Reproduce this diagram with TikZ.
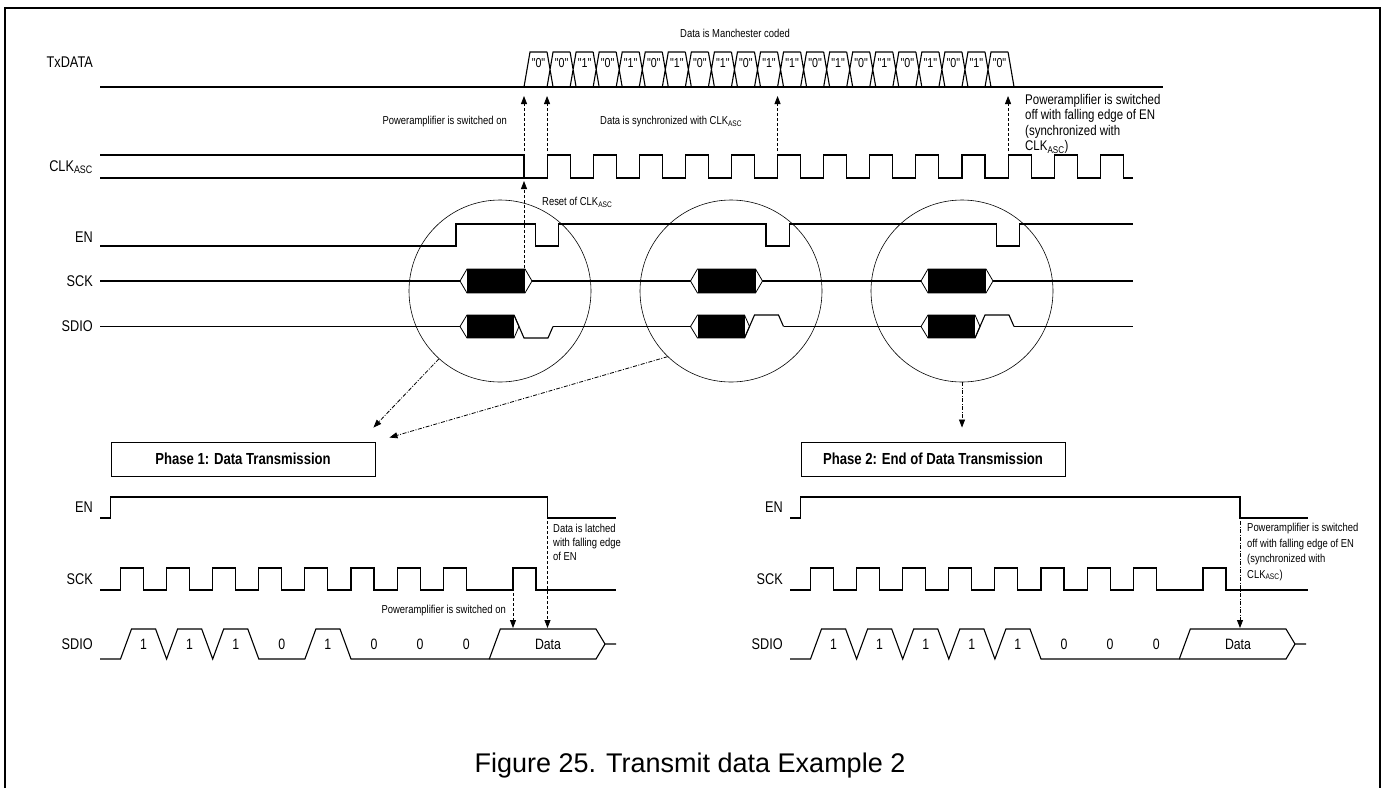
\documentclass[tikz,border=0pt]{standalone}
\usepackage{fontspec}
\setmainfont{Liberation Sans}
\newfontfamily\narrowsf{Liberation Sans}[FakeStretch=0.82]
\usetikzlibrary{positioning,calc,arrows.meta}

\newcommand{\nsize}[2]{\narrowsf\fontsize{#1}{#2}\selectfont}
\newcommand{\asc}{\textsubscript{ASC}}

\begin{document}
\begin{tikzpicture}[x=1pt,y=-1pt]
    \tikzstyle{wave}=[line width=1.1pt, line join=miter];
    \tikzstyle{signame}=[anchor=east, inner sep=0pt, font=\nsize{15.5}{18}];
    \tikzstyle{note}=[inner sep=0pt, align=left, font=\nsize{11.5}{14}];
    \tikzstyle{bitval}=[inner sep=0pt, font=\nsize{15}{18}];
    \tikzstyle{mcode}=[inner sep=0pt, font=\nsize{13}{15}];
    \tikzstyle{ring}=[draw, circle, line width=0.6pt, minimum size=182pt, inner sep=0pt];
    \tikzstyle{phase}=[draw, line width=0.9pt, minimum width=264pt, minimum height=34pt, inner sep=0pt, font=\bfseries\nsize{16}{18}];
    \tikzstyle{hint}=[line width=0.8pt, densely dashed, -{Triangle[length=8pt,width=6pt]}];
    \tikzstyle{link}=[line width=0.8pt, dash pattern=on 4pt off 1.5pt on 1pt off 1.5pt, -{Triangle[length=8pt,width=6pt]}];
    \tikzstyle{hexend}=[draw, fill=white, line width=0.8pt];
    \def\xclk{524}
    \def\uw{23.05}
    \useasboundingbox (0,0) rectangle (1385,788);
    % frame
    \draw[line width=2.5pt] (5,788) -- (5,8) -- (1380,8) -- (1380,788);

    % TxDATA, Manchester coded
    \node[signame] (txd) at (93,62) {TxDATA};
    \draw[wave] (100,87) -- (1163,87);
    \draw[wave] (\xclk,87) -- ++(6,-35) -- ({\xclk+\uw},52);
    \foreach \k in {1,...,20} {
        \draw[wave] ({\xclk+\k*\uw},52) -- ++(6,35) ({\xclk+\k*\uw},87) -- ++(6,-35) -- ({\xclk+(\k+1)*\uw},52);
    }
    \draw[wave] ({\xclk+21*\uw},52) -- ++(6,35);
    \foreach \v [count=\k from 0] in {0,0,1,0,1,0,1,0,1,0,1,1,0,1,0,1,0,1,0,1,0}
        \node[mcode] (mc\k) at ({\xclk+\k*\uw+14.5},63) {"\v"};
    \node[note] (mcnote) at (735,33) {Data is Manchester coded};

    % CLK_ASC
    \node[signame] (clk) at (93,167) {CLK\asc};
    \draw[wave] (100,155) -- (\xclk,155) -- (\xclk,178);
    \draw[wave] (100,178) -- ({\xclk+\uw},178)
        \foreach \j in {0,...,11} { -- ({\xclk+(2*\j+1)*\uw},155) -- ({\xclk+(2*\j+2)*\uw},155)
            -- ({\xclk+(2*\j+2)*\uw},178) -- ({\xclk+(2*\j+3)*\uw},178) }
        -- ({\xclk+25*\uw},155) -- ({\xclk+26*\uw},155) -- ({\xclk+26*\uw},178) -- (1133,178);

    \foreach \k/\n in {0/a,1/b,11/c,21/d} {
        \coordinate (sync\n) at ({\xclk+\k*\uw},151);
        \coordinate (synctip\n) at ({\xclk+\k*\uw},96);
        \draw[hint] (sync\n) -- (synctip\n);
    }
    \node[note, anchor=east] (paon) at (507,122) {Poweramplifier is switched on};
    \node[note, anchor=west] (syncnote) at (600,122) {Data is synchronized with CLK\asc};
    \node[note, anchor=north west, font=\nsize{14}{15.5}] (paoff) at (1025,94) {Poweramplifier is switched\\off with falling edge of EN\\(synchronized with\\CLK\asc)};

    % EN
    \node[signame] (en) at (93,237) {EN};
    \draw[wave] (100,246) -- (456,246) -- (456,224)
        \foreach \k in {0.5,10.5,20.5} { -- ({\xclk+\k*\uw},224) -- ({\xclk+\k*\uw},246) -- ({\xclk+(\k+1)*\uw},246) -- ({\xclk+(\k+1)*\uw},224) }
        -- (1133,224);
    \coordinate (rst) at (\xclk,268);
    \coordinate (rsttip) at (\xclk,181);
    \draw[hint] (rst) -- (rsttip);
    \node[note, anchor=west] (rstnote) at (542,202) {Reset of CLK\asc};

    % SCK
    \node[signame] (sck) at (93,281) {SCK};
    \draw[wave] (100,281) -- (1133,281);
    \foreach \s in {0,230.5,461} {
        \draw[hexend] ({460+\s},281) -- ({467+\s},269) -- ({525+\s},269) -- ({532+\s},281) -- ({525+\s},293) -- ({467+\s},293) -- cycle;
        \fill ({467+\s},269) rectangle ({525+\s},293);
    }

    % SDIO
    \node[signame] (sdio) at (93,326.5) {SDIO};
    \draw[wave] (100,326.5) -- (460,326.5) (553,326.5) -- (690.5,326.5) (783.5,326.5) -- (921,326.5) (1014,326.5) -- (1133,326.5);
    \foreach \s in {0,230.5,461} {
        \draw[hexend] ({460+\s},326.5) -- ({467+\s},315) -- ({514+\s},315) -- ({519+\s},326.5) -- ({514+\s},338) -- ({467+\s},338) -- cycle;
        \fill ({467+\s},315) rectangle ({514+\s},338);
    }
    \draw[wave] (514,315) -- (524,338) -- (548,338) -- (553,326.5);
    \foreach \s in {230.5,461}
        \draw[wave] ({514+\s},338) -- ({524+\s},315) -- ({548+\s},315) -- ({553+\s},326.5);

    % zoom rings
    \node[ring] (ring1) at (500,291) {};
    \node[ring] (ring2) at (731,291) {};
    \node[ring] (ring3) at (962,291) {};

    \node[phase] (ph1) at (243,459) {Phase 1: Data Transmission};
    \node[phase] (ph2) at (933,459) {Phase 2: End of Data Transmission};
    \coordinate (ph1a) at ($(ph1.north east)+(-2,-14)$);
    \coordinate (ph1b) at ($(ph1.north east)+(14,-4)$);
    \coordinate (ph2a) at ($(ph2.north)+(29,-14)$);
    \draw[link] (ring1.228) -- (ph1a);
    \draw[link] (ring2.226) -- (ph1b);
    \draw[link] (ring3.south) -- (ph2a);

    % Phase 1 detail
    \node[signame] (en1) at (93,507.5) {EN};
    \draw[wave] (100,518) -- (110.5,518) -- (110.5,497) -- (547.5,497) -- (547.5,518) -- (616,518);
    \node[signame] (sck1) at (93,579) {SCK};
    \draw[wave] (100,590) \foreach \j in {0,...,7} { -- ({120.5+46.1*\j},590) -- ({120.5+46.1*\j},568) -- ({143.5+46.1*\j},568) -- ({143.5+46.1*\j},590) }
        -- (513,590) -- (513,568) -- (536,568) -- (536,590) -- (616,590);
    \node[signame] (sdio1) at (93,644) {SDIO};
    \draw[wave] (100,659) -- (120.5,659) -- (131.5,629) -- (155.6,629) -- (166.6,659) -- (177.6,629) -- (201.7,629)
        -- (212.7,659) -- (223.7,629) -- (247.8,629) -- (258.8,659) -- (304.9,659) -- (315.9,629) -- (340,629)
        -- (351,659) -- (489.3,659) -- (500.3,629) -- (596,629) -- (605,644) -- (616,644);
    \draw[wave] (489.3,659) -- (596,659) -- (605,644);
    \foreach \v [count=\k from 0] in {1,1,1,0,1,0,0,0}
        \node[bitval] (bita\k) at ({143.5+46.1*\k},644) {\v};
    \node[bitval] (dataa) at (548,644) {Data};
    \coordinate (paona) at (513,593);
    \coordinate (paonatip) at (513,628);
    \draw[hint] (paona) -- (paonatip);
    \coordinate (latch) at (547.5,521);
    \coordinate (latchtip) at (547.5,628);
    \draw[hint] (latch) -- (latchtip);
    \node[note, anchor=east] (paonanote) at (506,611) {Poweramplifier is switched on};
    \node[note, anchor=north west, font=\nsize{11.5}{14}] (latchnote) at (553,524) {Data is latched\\with falling edge\\of EN};

    % Phase 2 detail
    \node[signame] (en2) at (783,507.5) {EN};
    \draw[wave] (790,518) -- (800.5,518) -- (800.5,497) -- (1240,497) -- (1240,518) -- (1308,518);
    \node[signame] (sck2) at (783,579) {SCK};
    \draw[wave] (790,590) \foreach \j in {0,...,7} { -- ({810.5+46.1*\j},590) -- ({810.5+46.1*\j},568) -- ({833.5+46.1*\j},568) -- ({833.5+46.1*\j},590) }
        -- (1203,590) -- (1203,568) -- (1226,568) -- (1226,590) -- (1308,590);
    \node[signame] (sdio2) at (783,644) {SDIO};
    \draw[wave] (790,659) -- (810.5,659) -- (821.5,629) -- (845.6,629) -- (856.6,659) -- (867.6,629) -- (891.7,629)
        -- (902.7,659) -- (913.7,629) -- (937.8,629) -- (948.8,659) -- (959.8,629) -- (983.9,629) -- (994.9,659)
        -- (1005.9,629) -- (1030,629) -- (1041,659) -- (1179.3,659) -- (1190.3,629) -- (1286,629) -- (1295,644) -- (1306,644);
    \draw[wave] (1179.3,659) -- (1286,659) -- (1295,644);
    \foreach \v [count=\k from 0] in {1,1,1,1,1,0,0,0}
        \node[bitval] (bitb\k) at ({833.5+46.1*\k},644) {\v};
    \node[bitval] (datab) at (1238,644) {Data};
    \coordinate (paoffb) at (1240,521);
    \coordinate (paoffbtip) at (1240,628);
    \draw[link] (paoffb) -- (paoffbtip);
    \node[note, anchor=north west, font=\nsize{11.5}{15.5}] (paoffnote) at (1247,523) {Poweramplifier is switched\\off with falling edge of EN\\(synchronized with\\CLK\asc)};

    \node[font=\fontsize{27}{32}\selectfont] (caption) at (690,766) {Figure 25. Transmit data Example 2};
\end{tikzpicture}
\end{document}
